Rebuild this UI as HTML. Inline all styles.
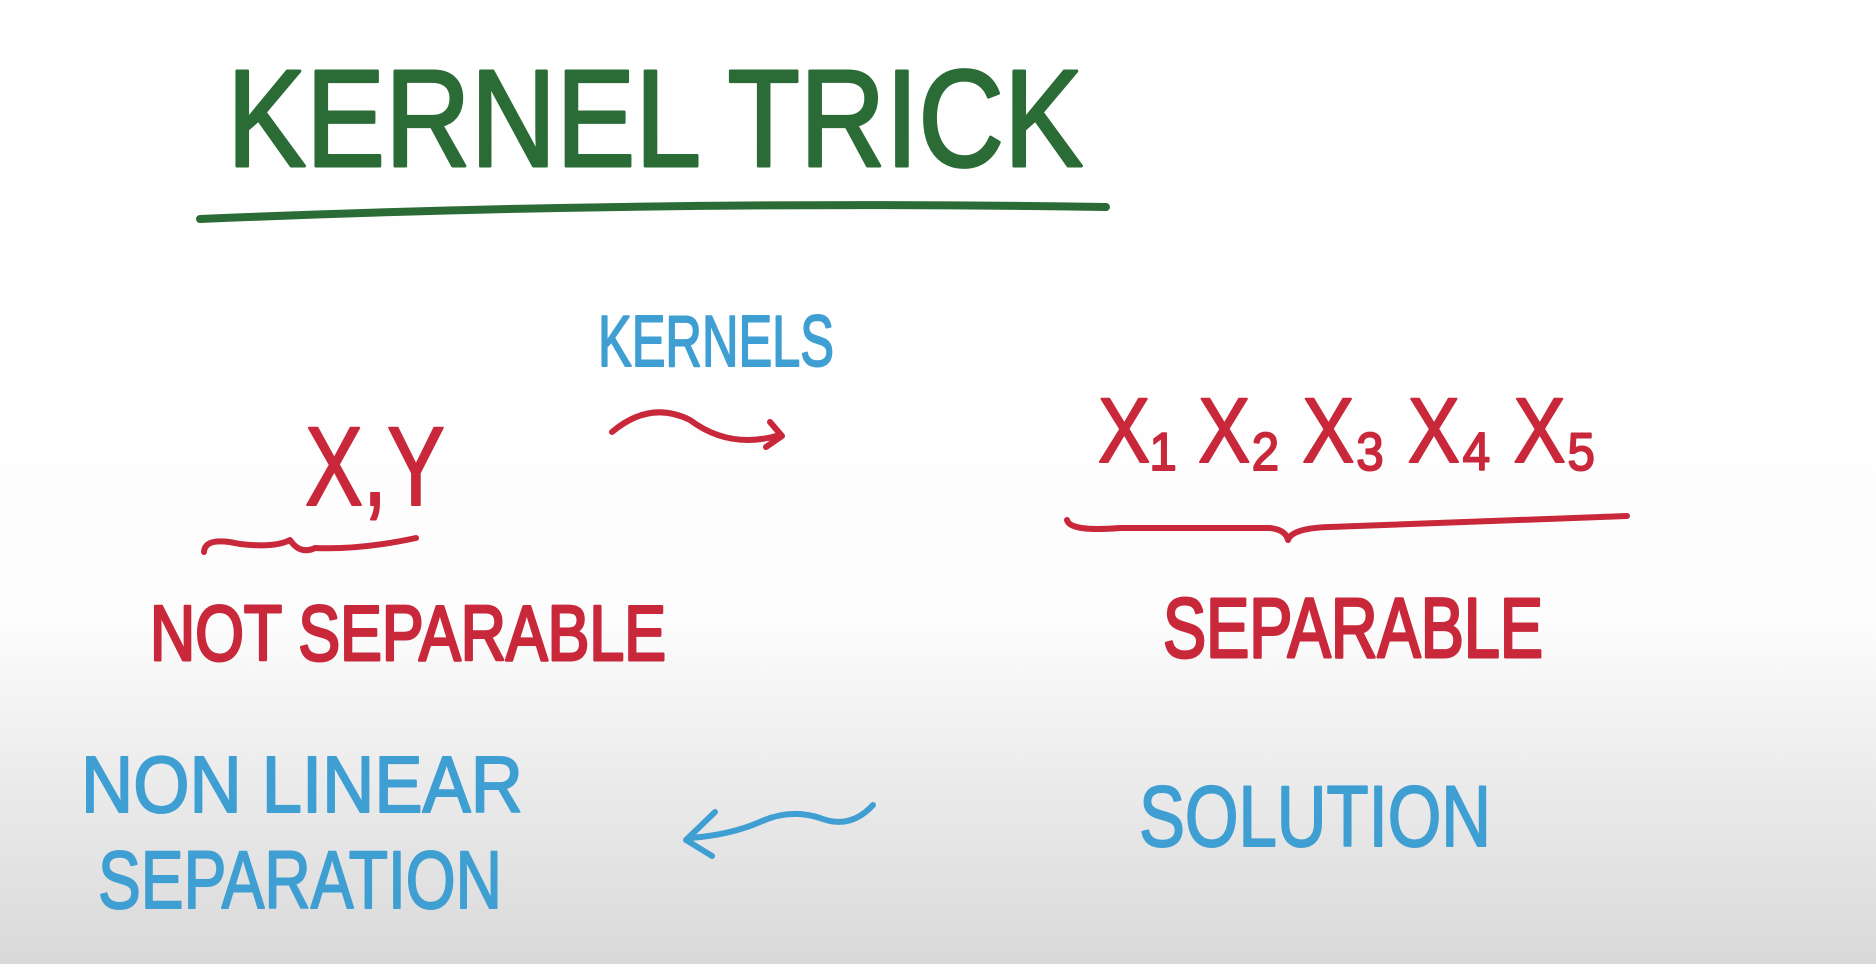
<!DOCTYPE html>
<html><head><meta charset="utf-8"><style>
html,body{margin:0;padding:0;width:1876px;height:964px;overflow:hidden;background:#fff}
text{font-family:"Liberation Sans",sans-serif;font-weight:normal}
</style></head><body>
<svg width="1876" height="964" viewBox="0 0 1876 964" xmlns="http://www.w3.org/2000/svg">
<defs><linearGradient id="bg" x1="0" y1="0" x2="0" y2="1">
<stop offset="0" stop-color="#ffffff"/><stop offset="0.64" stop-color="#fdfdfd"/><stop offset="0.78" stop-color="#eeeeee"/><stop offset="1" stop-color="#d9d9d9"/></linearGradient></defs>
<rect width="1876" height="964" fill="url(#bg)"/>
<g fill="none" stroke-linecap="round" stroke-linejoin="round">
<text x="227" y="166" font-size="138" fill="#2b6b36" stroke="#2b6b36" stroke-width="3" textLength="856" lengthAdjust="spacingAndGlyphs">KERNEL TRICK</text>
<path d="M200 219 Q650 200 1106 207" stroke="#2b6b36" stroke-width="8"/>
<text x="598" y="366" font-size="72" fill="#3f9fd2" stroke="#3f9fd2" stroke-width="2" textLength="236" lengthAdjust="spacingAndGlyphs">KERNELS</text>
<path d="M612 432 Q650 400 690 420 Q730 450 780 435 M770 422 L782 436 L766 447" stroke="#c8283a" stroke-width="6"/>
<text x="305" y="505" font-size="112" fill="#c8283a" stroke="#c8283a" stroke-width="2" textLength="140" lengthAdjust="spacingAndGlyphs">X,Y</text>
<path d="M204 552 Q205 536 240 544 Q275 548 290 540 Q300 555 315 548 Q360 550 416 538" stroke="#c8283a" stroke-width="6"/>
<text x="150" y="660" font-size="78" fill="#c8283a" stroke="#c8283a" stroke-width="3" textLength="516" lengthAdjust="spacingAndGlyphs">NOT SEPARABLE</text>
<text x="1098" y="462" font-size="92" fill="#c8283a" stroke="#c8283a" stroke-width="2" textLength="499" lengthAdjust="spacingAndGlyphs">X₁ X₂ X₃ X₄ X₅</text>
<path d="M1067 520 Q1070 532 1120 528 L1270 528 Q1286 530 1288 540 Q1292 528 1330 527 L1627 516" stroke="#c8283a" stroke-width="6"/>
<text x="1163" y="657" font-size="84" fill="#c8283a" stroke="#c8283a" stroke-width="3" textLength="380" lengthAdjust="spacingAndGlyphs">SEPARABLE</text>
<text x="81" y="812" font-size="80" fill="#3f9fd2" stroke="#3f9fd2" stroke-width="2" textLength="442" lengthAdjust="spacingAndGlyphs">NON LINEAR</text>
<text x="98" y="908" font-size="82" fill="#3f9fd2" stroke="#3f9fd2" stroke-width="2" textLength="404" lengthAdjust="spacingAndGlyphs">SEPARATION</text>
<path d="M873 805 Q850 830 820 818 Q790 808 760 822 Q730 835 690 838 M715 812 L686 840 L712 856" stroke="#3f9fd2" stroke-width="6"/>
<text x="1139" y="846" font-size="86" fill="#3f9fd2" stroke="#3f9fd2" stroke-width="2" textLength="352" lengthAdjust="spacingAndGlyphs">SOLUTION</text>
</g>
</svg>
</body></html>
